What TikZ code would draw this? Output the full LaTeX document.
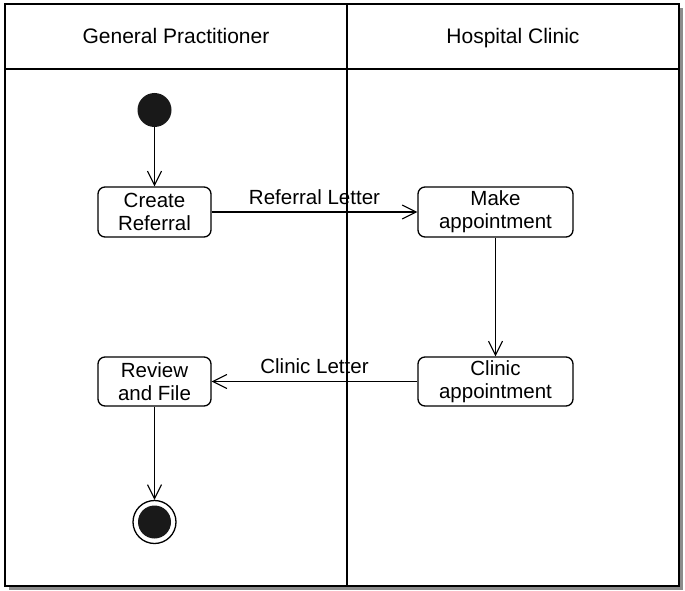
\documentclass[tikz,border=0pt]{standalone}
\usepackage{fontspec}
\setmainfont{Liberation Sans}
\usetikzlibrary{arrows.meta}
\begin{document}
\begin{tikzpicture}[x=1pt,y=-1pt,
  lane/.style={line width=1.3pt},
  activity/.style={draw,line width=1.3pt,rounded corners=7pt,align=center,
    inner sep=0pt,font=\fontsize{20.5}{23}\selectfont},
  flow/.style={line width=1.1pt,-{Straight Barb[length=14pt,width=14pt,line width=1.1pt]}},
  lbl/.style={font=\fontsize{20.5}{23}\selectfont,inner sep=0pt},
  hdr/.style={font=\fontsize{21}{24}\selectfont,inner sep=0pt,anchor=base}]
\useasboundingbox (0,0) rectangle (685,591);
% frame with drop shadow
\fill[black!45] (9,8) rectangle (683,590);
\draw[fill=white,line width=1.5pt] (5,4) rectangle (679,586);
% swimlanes
\draw[lane] (5,69) -- (679,69);
\draw[lane] (347,4) -- (347,586);
\node[hdr] (gp) at (176,44) {General Practitioner};
\node[hdr] (hc) at (513,44) {Hospital Clinic};
% activities
\node[activity,minimum width=113pt,minimum height=50pt] (create) at (154.5,212) {Create\\Referral};
\node[activity,minimum width=155pt,minimum height=50pt] (make) at (495.5,212) {Make\\appointment};
\node[activity,minimum width=155pt,minimum height=49pt] (clinic) at (495.5,381.5) {Clinic\\appointment};
\node[activity,minimum width=113pt,minimum height=49pt] (review) at (154.5,381.5) {Review\\and File};
% initial and final states
\node[circle,fill=black!90,minimum size=34pt,inner sep=0pt] (start) at (154.5,110) {};
\node[circle,draw,line width=1.3pt,minimum size=43pt,inner sep=0pt] (stop) at (154.5,522) {};
\node[circle,fill=black!90,minimum size=33pt,inner sep=0pt] (stopdot) at (154.5,522) {};
% flows
\draw[flow] (start) -- (create);
\draw[flow] (create) -- node[lbl,above=7pt,pos=0.5] (rl) {Referral Letter} (make);
\draw[flow] (make) -- (clinic);
\draw[flow] (clinic) -- node[lbl,above=7pt,pos=0.5] (cl) {Clinic Letter} (review);
\draw[flow] (review) -- (stop);
\end{tikzpicture}
\end{document}
